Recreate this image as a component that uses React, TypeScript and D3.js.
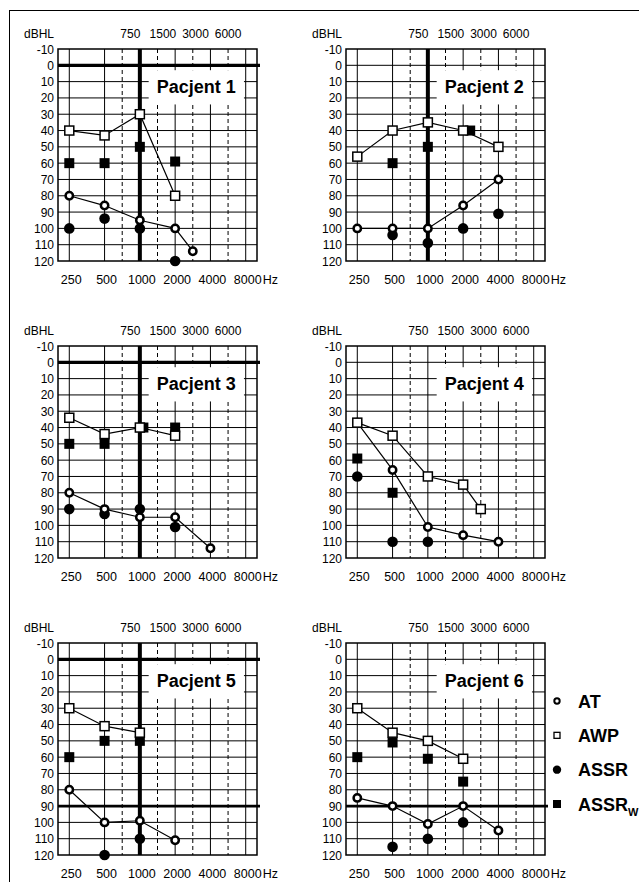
import { useEffect, useRef } from "react";
import * as d3 from "d3";

const WIDTH = 639;
const HEIGHT = 882;
const FONT = "Arial, 'Liberation Sans', sans-serif";

// axes
const OCTAVES = [250, 500, 1000, 2000, 4000, 8000];
const HALF_OCTAVES = [750, 1500, 3000, 6000];
const DB_TICKS = [-10, 0, 10, 20, 30, 40, 50, 60, 70, 80, 90, 100, 110, 120];

// [frequency Hz, dB HL]
const P1_AT = [[250, 80], [500, 86], [1000, 95], [2000, 100], [3000, 114]];
const P1_AWP = [[250, 40], [500, 43], [1000, 30], [2000, 80]];
const P1_ASSR = [[250, 100], [500, 94], [1000, 100], [2000, 120]];
const P1_ASSRW = [[250, 60], [500, 60], [1000, 50], [2000, 59]];

const P2_AT = [[250, 100], [500, 100], [1000, 100], [2000, 86], [4000, 70]];
const P2_AWP = [[250, 56], [500, 40], [1000, 35], [2000, 40], [4000, 50]];
const P2_ASSR = [[500, 104], [1000, 109], [2000, 100], [4000, 91]];
const P2_ASSRW = [[500, 60], [1000, 50], [2400, 40]];

const P3_AT = [[250, 80], [500, 90], [1000, 95], [2000, 95], [4000, 114]];
const P3_AWP = [[250, 34], [500, 44], [1000, 40], [2000, 45]];
const P3_ASSR = [[250, 90], [500, 93], [1000, 90], [2000, 101]];
const P3_ASSRW = [[250, 50], [500, 50], [1100, 40], [2000, 40]];

const P4_AT = [[250, 37], [500, 66], [1000, 101], [2000, 106], [4000, 110]];
const P4_AWP = [[250, 37], [500, 45], [1000, 70], [2000, 75], [3000, 90]];
const P4_ASSR = [[250, 70], [500, 110], [1000, 110]];
const P4_ASSRW = [[250, 59], [500, 80]];

const P5_AT = [[250, 80], [500, 100], [1000, 99], [2000, 111]];
const P5_AWP = [[250, 30], [500, 41], [1000, 45]];
const P5_ASSR = [[500, 120], [1000, 110]];
const P5_ASSRW = [[250, 60], [500, 50], [1000, 50]];

const P6_AT = [[250, 85], [500, 90], [1000, 101], [2000, 90], [4000, 105]];
const P6_AWP = [[250, 30], [500, 45], [1000, 50], [2000, 61]];
const P6_ASSR = [[500, 115], [1000, 110], [2000, 100]];
const P6_ASSRW = [[250, 60], [500, 51], [1000, 61], [2000, 75]];

const LEGEND = ["AT", "AWP", "ASSR", "ASSR"];

const PW = 199;
const PH = 212;
const COL_X = [58, 346];
const ROW_Y = [49, 346, 643];

const PANELS = [
  { name: "Pacjent 1", col: 0, row: 0, thick: [0], thick1000: true, at: P1_AT, awp: P1_AWP, assr: P1_ASSR, assrw: P1_ASSRW },
  { name: "Pacjent 2", col: 1, row: 0, thick: [], thick1000: true, at: P2_AT, awp: P2_AWP, assr: P2_ASSR, assrw: P2_ASSRW },
  { name: "Pacjent 3", col: 0, row: 1, thick: [0], thick1000: true, at: P3_AT, awp: P3_AWP, assr: P3_ASSR, assrw: P3_ASSRW },
  { name: "Pacjent 4", col: 1, row: 1, thick: [], thick1000: false, at: P4_AT, awp: P4_AWP, assr: P4_ASSR, assrw: P4_ASSRW },
  { name: "Pacjent 5", col: 0, row: 2, thick: [0, 90], thick1000: true, at: P5_AT, awp: P5_AWP, assr: P5_ASSR, assrw: P5_ASSRW },
  { name: "Pacjent 6", col: 1, row: 2, thick: [90], thick1000: false, at: P6_AT, awp: P6_AWP, assr: P6_ASSR, assrw: P6_ASSRW },
];

function drawPanel(svg, p) {
  // audiogram x: octaves evenly spaced, 750/1500/... halfway in between
  const octIdx = d3.scaleLinear().domain(OCTAVES).range(d3.range(OCTAVES.length));
  const xi = d3.scaleLinear().domain([-0.32, 5.32]).range([0, PW]);
  const x = (f) => xi(octIdx(f));
  const y = d3.scaleLinear().domain([-10, 120]).range([0, PH]);

  const g = svg.append("g").attr("transform", `translate(${COL_X[p.col]},${ROW_Y[p.row]})`);

  // horizontal grid
  g.append("g").selectAll("line")
    .data(DB_TICKS.slice(1, -1))
    .join("line")
    .attr("x1", 0).attr("x2", d => p.thick.includes(d) ? PW + 3 : PW)
    .attr("y1", d => y(d)).attr("y2", d => y(d))
    .attr("stroke", "#000")
    .attr("stroke-width", d => d === 0 && p.thick.includes(d) ? 3.2 : p.thick.includes(d) ? 2.6 : 1);

  // half octave dashed lines
  g.append("g").selectAll("line")
    .data(HALF_OCTAVES)
    .join("line")
    .attr("x1", d => x(d)).attr("x2", d => x(d))
    .attr("y1", 0).attr("y2", PH)
    .attr("stroke", "#000")
    .attr("stroke-width", 1)
    .attr("stroke-dasharray", "4 3");

  // octave lines
  g.append("g").selectAll("line")
    .data(OCTAVES)
    .join("line")
    .attr("x1", d => x(d)).attr("x2", d => x(d))
    .attr("y1", 0).attr("y2", PH)
    .attr("stroke", "#000")
    .attr("stroke-width", d => d === 1000 && p.thick1000 ? 4 : 1);

  // frame
  g.append("rect")
    .attr("x", 0).attr("y", 0).attr("width", PW).attr("height", PH)
    .attr("fill", "none").attr("stroke", "#000").attr("stroke-width", 1.5);

  // name box
  const bx0 = xi(2.25), bx1 = xi(4.95);
  g.append("rect")
    .attr("x", bx0).attr("y", y(3))
    .attr("width", bx1 - bx0).attr("height", y(24) - y(3))
    .attr("fill", "#fff");
  g.append("text")
    .attr("x", (bx0 + bx1) / 2).attr("y", y(17))
    .attr("text-anchor", "middle")
    .style("font-family", FONT).style("font-size", "18px").style("font-weight", "bold")
    .text(p.name);

  // axis labels
  g.append("g").selectAll("text")
    .data(DB_TICKS)
    .join("text")
    .attr("x", -4).attr("y", d => y(d) + 4.5)
    .attr("text-anchor", "end")
    .style("font-family", FONT).style("font-size", "12px")
    .text(d => d);

  g.append("text")
    .attr("x", -34).attr("y", -11)
    .style("font-family", FONT).style("font-size", "12px")
    .text("dBHL");

  g.append("g").selectAll("text")
    .data(HALF_OCTAVES)
    .join("text")
    .attr("x", d => x(d) + (4.5 - octIdx(d)) * 2.7).attr("y", -11)
    .attr("text-anchor", "middle")
    .style("font-family", FONT).style("font-size", "12px")
    .text(d => d);

  g.append("g").selectAll("text")
    .data(OCTAVES)
    .join("text")
    .attr("x", d => x(d) + 2).attr("y", PH + 23)
    .attr("text-anchor", "middle")
    .style("font-family", FONT).style("font-size", "12.5px")
    .text(d => d);

  g.append("text")
    .attr("x", x(8000) + 17).attr("y", PH + 23)
    .style("font-family", FONT).style("font-size", "12.5px")
    .text("Hz");

  // data
  const line = d3.line().x(d => x(d[0])).y(d => y(d[1]));

  g.append("g").selectAll("circle")
    .data(p.assr)
    .join("circle")
    .attr("cx", d => x(d[0])).attr("cy", d => y(d[1]))
    .attr("r", 5.3).attr("fill", "#000");

  g.append("g").selectAll("rect")
    .data(p.assrw)
    .join("rect")
    .attr("x", d => x(d[0]) - 5).attr("y", d => y(d[1]) - 5)
    .attr("width", 10).attr("height", 10).attr("fill", "#000");

  g.append("path").datum(p.at)
    .attr("d", line).attr("fill", "none").attr("stroke", "#000").attr("stroke-width", 1.2);
  g.append("g").selectAll("circle")
    .data(p.at)
    .join("circle")
    .attr("cx", d => x(d[0])).attr("cy", d => y(d[1]))
    .attr("r", 3.7).attr("fill", "#fff").attr("stroke", "#000").attr("stroke-width", 2.5);

  g.append("path").datum(p.awp)
    .attr("d", line).attr("fill", "none").attr("stroke", "#000").attr("stroke-width", 1.2);
  g.append("g").selectAll("rect")
    .data(p.awp)
    .join("rect")
    .attr("x", d => x(d[0]) - 4.5).attr("y", d => y(d[1]) - 4.5)
    .attr("width", 9).attr("height", 9)
    .attr("fill", "#fff").attr("stroke", "#000").attr("stroke-width", 1.5);
}

function drawLegend(svg) {
  const ly = d3.scalePoint().domain(d3.range(LEGEND.length)).range([701, 804]);
  const mx = 557;
  const g = svg.append("g");
  LEGEND.forEach((label, i) => {
    const cy = ly(i);
    if (i === 0) {
      g.append("circle").attr("cx", mx).attr("cy", cy).attr("r", 2.7)
        .attr("fill", "#fff").attr("stroke", "#000").attr("stroke-width", 2);
    } else if (i === 1) {
      g.append("rect").attr("x", mx - 3).attr("y", cy - 3).attr("width", 6).attr("height", 6)
        .attr("fill", "#fff").attr("stroke", "#000").attr("stroke-width", 1.3);
    } else if (i === 2) {
      g.append("circle").attr("cx", mx).attr("cy", cy).attr("r", 4.2).attr("fill", "#000");
    } else {
      g.append("rect").attr("x", mx - 4).attr("y", cy - 4).attr("width", 8).attr("height", 8).attr("fill", "#000");
    }
    const t = g.append("text")
      .attr("x", 578).attr("y", cy + 6.5)
      .style("font-family", FONT).style("font-size", "18px").style("font-weight", "bold")
      .text(label);
    if (i === 3) {
      t.append("tspan").attr("dy", 5).style("font-size", "11px").text("W");
    }
  });
}

export default function App() {
  const ref = useRef(null);

  useEffect(() => {
    const svg = d3.select(ref.current);
    svg.selectAll("*").remove();
    svg.append("rect").attr("width", WIDTH).attr("height", HEIGHT).attr("fill", "#fff");
    // outer frame (cut off on the right and bottom)
    svg.append("rect")
      .attr("x", 9.5).attr("y", 10.5).attr("width", 700).attr("height", 1000)
      .attr("fill", "none").attr("stroke", "#000").attr("stroke-width", 1);
    PANELS.forEach(p => drawPanel(svg, p));
    drawLegend(svg);
  }, []);

  return (
    <svg
      ref={ref}
      width={WIDTH}
      height={HEIGHT}
      style={{ position: "absolute", left: 0, top: 0, display: "block" }}
    />
  );
}
